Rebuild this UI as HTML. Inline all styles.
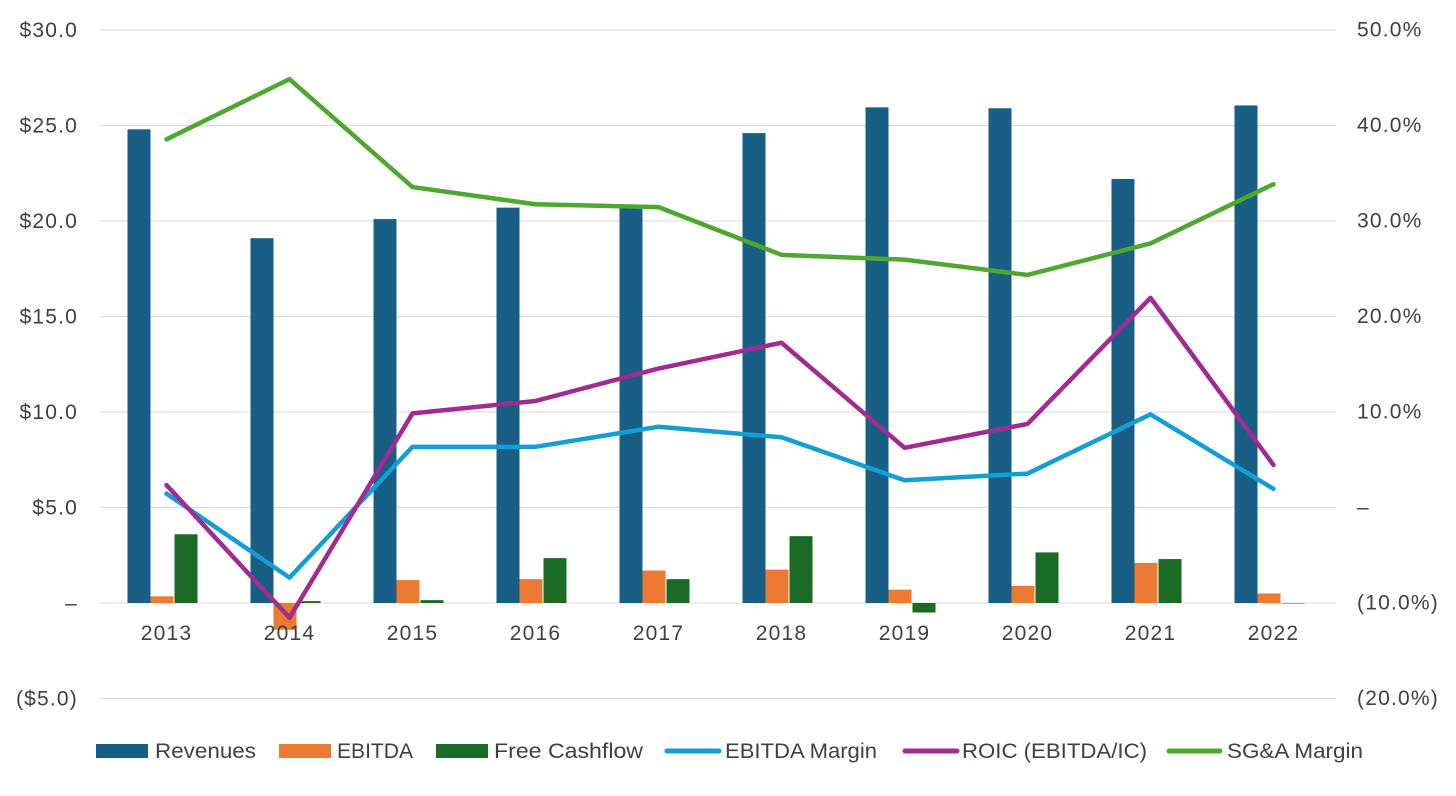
<!DOCTYPE html>
<html><head><meta charset="utf-8"><style>
body{margin:0;background:#fff;font-family:"Liberation Sans",Arial,sans-serif;}
svg text{font-family:"Liberation Sans",Arial,sans-serif;fill:#404040;font-size:21px;letter-spacing:1.2px;}
svg #legend text{letter-spacing:0;font-size:21px;}
</style></head><body>
<svg id="chart" width="1456" height="791" xmlns="http://www.w3.org/2000/svg">
<g id="grid"></g>
<g id="bars"></g>
<g id="lines"></g>
<g id="axes"></g>
<g id="legend"></g>
</svg>
<script>
const years=["2013","2014","2015","2016","2017","2018","2019","2020","2021","2022"];
const revenues=[24.8,19.1,20.1,20.7,20.7,24.6,25.95,25.9,22.2,26.05];
const ebitda=[0.35,-1.4,1.2,1.25,1.7,1.75,0.7,0.9,2.1,0.5];
const fcf=[3.6,0.1,0.15,2.35,1.25,3.5,-0.5,2.65,2.3,0.0];
const ebitdaMargin=[1.4,-7.4,6.3,6.3,8.4,7.3,2.8,3.5,9.7,1.9];
const roic=[2.3,-11.6,9.8,11.1,14.5,17.2,6.2,8.7,21.9,4.4];
const sgaMargin=[38.5,44.8,33.5,31.7,31.4,26.4,25.9,24.3,27.6,33.8];
const leftTicks=[30,25,20,15,10,5,0,-5];
const leftLabels=["$30.0","$25.0","$20.0","$15.0","$10.0","$5.0","–","($5.0)"];
const rightTicks=[50,40,30,20,10,0,-10,-20];
const rightLabels=["50.0%","40.0%","30.0%","20.0%","10.0%","–","(10.0%)","(20.0%)"];

const NS="http://www.w3.org/2000/svg";
const x0=105,step=123;
const yL=v=>603-v*19.1;
const yR=v=>507-v*9.55;
const xc=i=>x0+step*(i+0.5);
function mk(tag,attrs,parent,txt){const e=document.createElementNS(NS,tag);for(const k in attrs)e.setAttribute(k,attrs[k]);if(txt!==undefined)e.textContent=txt;parent.appendChild(e);return e;}
const G=id=>document.getElementById(id);

leftTicks.forEach((t,i)=>{
  const l=mk("line",{x1:100,x2:1336,y1:yL(t),y2:yL(t),stroke:"#d9d9d9","stroke-width":1},G("grid"));
  
  
  const tx=mk("text",{x:78,y:yL(t)+7,"text-anchor":"end"},G("axes"),leftLabels[i]);
  
  
});
rightTicks.forEach((t,i)=>{
  const tx=mk("text",{x:1357,y:yR(t)+7},G("axes"),rightLabels[i]);
  
  
});
years.forEach((y,i)=>{
  const tx=mk("text",{x:xc(i),y:640,"text-anchor":"middle"},G("axes"),y);
  
  
});
const series=[[revenues,"#185e85",-39],[ebitda,"#ec7a33",-16],[fcf,"#1a6b25",8]];
series.forEach(([arr,col,off])=>{
  arr.forEach((v,i)=>{
    const top=Math.min(yL(v),yL(0)),h=Math.abs(yL(v)-yL(0));
    const r=mk("rect",{x:xc(i)+off,y:top,width:23,height:Math.max(h,0.5),fill:col},G("bars"));
    
    
  });
});
const lineSeries=[[ebitdaMargin,"#139fd6"],[roic,"#a12a93"],[sgaMargin,"#4ea72e"]];
lineSeries.forEach(([arr,col])=>{
  const p=mk("polyline",{points:arr.map((v,i)=>xc(i)+","+yR(v)).join(" "),fill:"none",stroke:col,"stroke-width":4.5,"stroke-linejoin":"round","stroke-linecap":"round"},G("lines"));
  
  
});
const leg=[["Revenues","#185e85","rect",96,52,155,101],["EBITDA","#ec7a33","rect",279,52,337,76],["Free Cashflow","#1a6b25","rect",436,52,494,149],["EBITDA Margin","#139fd6","line",665,56,725,152],["ROIC (EBITDA/IC)","#a12a93","line",903,56,962,185],["SG&A Margin","#4ea72e","line",1167,55,1227,136]];
leg.forEach(([name,col,type,x,w,tx,tl])=>{
  const g=mk("g",{},G("legend"));
  
  
  if(type==="rect")mk("rect",{x:x,y:744,width:w,height:14,fill:col},g);
  else mk("line",{x1:x+2,x2:x+w-2,y1:751,y2:751,stroke:col,"stroke-width":5,"stroke-linecap":"round"},g);
  mk("text",{x:tx,y:758,textLength:tl,lengthAdjust:"spacingAndGlyphs"},g,name);
});
</script>
</body></html>
